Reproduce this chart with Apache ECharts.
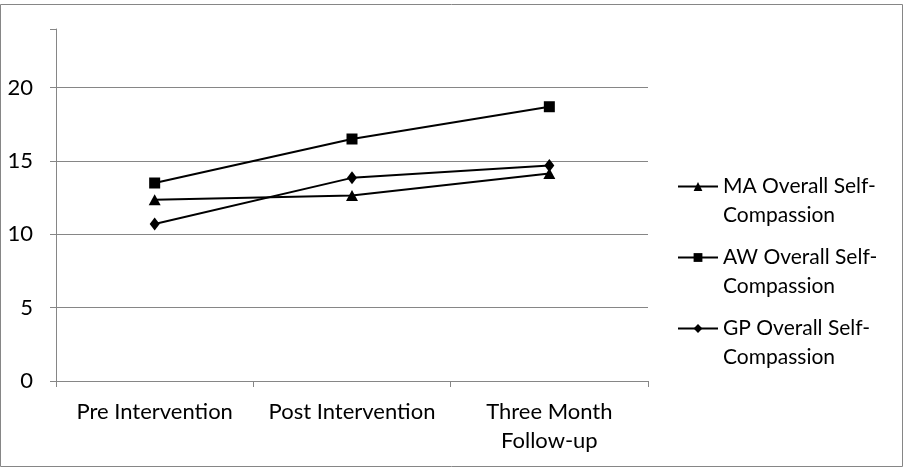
<!DOCTYPE html>
<html>
<head>
<meta charset="utf-8">
<script src="https://cdn.jsdelivr.net/npm/echarts@6/dist/echarts.min.js"></script>
<style>
html, body { margin: 0; padding: 0; background: #fff; }
#chart { width: 905px; height: 468px; }
</style>
</head>
<body>
<div id="chart"></div>
<script>
var categories = ['Pre Intervention', 'Post Intervention', 'Three Month\nFollow-up'];
var seriesNames = ['MA Overall Self-Compassion', 'AW Overall Self-Compassion', 'GP Overall Self-Compassion'];
var maValues = [12.35, 12.65, 14.15];
var awValues = [13.5, 16.5, 18.7];
var gpValues = [10.7, 13.85, 14.7];
var yTicks = [0, 5, 10, 15, 20];

var font = 'Lato';
var gray = '#868686';

function makeLine(name, data, symbol, size) {
	return {
		name : name,
		type : 'line',
		data : data,
		symbol : symbol,
		symbolSize : size,
		showSymbol : true,
		lineStyle : { color : '#000', width : 2 },
		itemStyle : { color : '#000' },
		emphasis : { disabled : true }
	};
}

var myChart = echarts.init(document.getElementById('chart'));

myChart.setOption({
	animation : false,
	backgroundColor : '#fff',
	textStyle : { fontFamily : font },
	graphic : [ {
		type : 'rect',
		shape : { x : 0.5, y : 4.5, width : 902, height : 462 },
		style : { fill : 'none', stroke : gray, lineWidth : 1 }
	} ],
	grid : { left : 56, right : 257, top : 29, bottom : 87 },
	legend : {
		orient : 'vertical',
		left : 677,
		top : 143,
		padding : 0,
		itemWidth : 40,
		itemHeight : 11,
		itemGap : -16,
		// blank first line so the icon sits on the first text line
		formatter : function(name) {
			return ' \n' + name.replace('Self-', 'Self-\n');
		},
		textStyle : {
			fontFamily : font,
			fontSize : 21,
			color : '#000',
			lineHeight : 29
		},
		data : seriesNames
	},
	xAxis : {
		type : 'category',
		data : categories,
		axisLine : { lineStyle : { color : gray, width : 1 } },
		axisTick : { show : true, length : 6, interval : 0, lineStyle : { color : gray } },
		axisLabel : {
			interval : 0,
			color : '#000',
			fontFamily : font,
			fontSize : 22,
			lineHeight : 29,
			margin : 16
		}
	},
	yAxis : {
		type : 'value',
		min : 0,
		max : 24,
		interval : 5,
		axisLine : { show : true, lineStyle : { color : gray, width : 1 } },
		axisTick : { show : true, length : 6, lineStyle : { color : gray } },
		axisLabel : {
			color : '#000',
			fontFamily : font,
			fontSize : 22,
			margin : 23,
			formatter : function(v) {
				return yTicks.indexOf(v) >= 0 ? String(v) : '';
			}
		},
		splitLine : {
			show : true,
			lineStyle : {
				color : [ gray, gray, gray, gray, gray, 'rgba(0,0,0,0)' ],
				width : 1
			}
		}
	},
	series : [
		makeLine(seriesNames[0], maValues, 'triangle', [12, 11]),
		makeLine(seriesNames[1], awValues, 'rect', 11),
		makeLine(seriesNames[2], gpValues, 'diamond', [10, 13])
	]
});
</script>
</body>
</html>
